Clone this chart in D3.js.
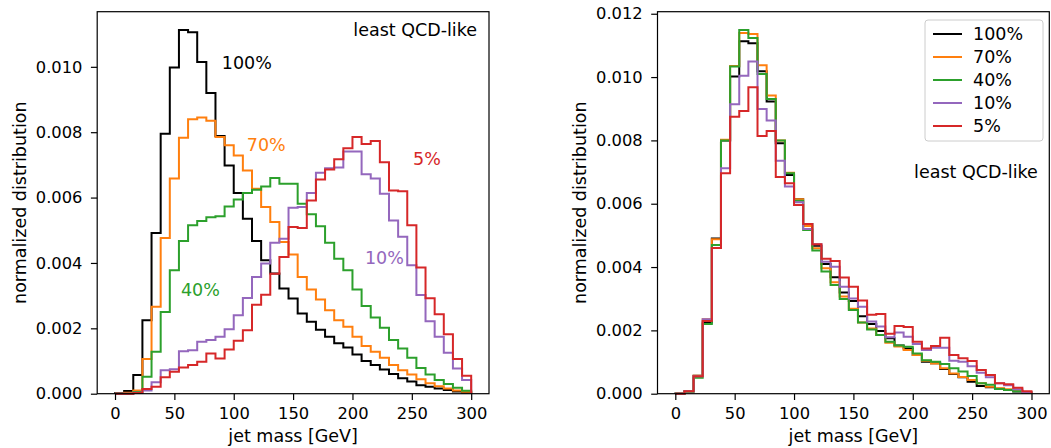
<!DOCTYPE html>
<html>
<head>
<meta charset="utf-8">
<script src="https://cdn.jsdelivr.net/npm/d3@7/dist/d3.min.js"></script>
<style>
body{margin:0;background:#fff;}
text{font-family:"DejaVu Sans",sans-serif;fill:#000;}
</style>
<title>jet mass</title>
</head>
<body>
<div id="graph"></div>
<script>
// histogram definition: 39 equal bins between 0 and 300 GeV
var massRange = [0, 300];
var nBins = 39;

var cutLabels = ["100%", "70%", "40%", "10%", "5%"];
var cutColors = ["#000000", "#ff7f0e", "#2ca02c", "#9467bd", "#d62728"];

var xTicks = [0, 50, 100, 150, 200, 250, 300];
var yTicksLeft = [0, 0.002, 0.004, 0.006, 0.008, 0.010];
var yTicksRight = [0, 0.002, 0.004, 0.006, 0.008, 0.010, 0.012];

// left panel (most signal-like selection)
var left100 = [0.00001, 0.00008, 0.00057, 0.00225, 0.00492, 0.00795, 0.00998, 0.01113, 0.01106, 0.01015,
  0.0092, 0.00788, 0.00698, 0.00614, 0.00535, 0.00467, 0.00408, 0.00368, 0.00322, 0.00291,
  0.00245, 0.0022, 0.00196, 0.00174, 0.00154, 0.00141, 0.0012, 0.001, 0.00088, 0.00074,
  0.0006, 0.00047, 0.00037, 0.00026, 0.00021, 0.00016, 0.00011, 0.00007, 0.00004];
var left70 = [0, 0.00003, 0.0001, 0.00106, 0.00266, 0.00476, 0.00658, 0.00783, 0.0084, 0.00845,
  0.00835, 0.00785, 0.0076, 0.00729, 0.00683, 0.00627, 0.00571, 0.00525, 0.00464, 0.00426,
  0.00357, 0.00319, 0.00288, 0.00255, 0.00225, 0.00205, 0.00174, 0.00146, 0.00128, 0.0011,
  0.00088, 0.00072, 0.00059, 0.00044, 0.00032, 0.00023, 0.00016, 0.0001, 0.00006];
var left40 = [0, 0, 0.00005, 0.00052, 0.00128, 0.0025, 0.00378, 0.00467, 0.00515, 0.00528,
  0.0054, 0.00543, 0.00573, 0.00594, 0.00614, 0.00624, 0.00634, 0.0066, 0.00642, 0.00642,
  0.00581, 0.00549, 0.00512, 0.00462, 0.00413, 0.00378, 0.00319, 0.00268, 0.00233, 0.00202,
  0.00164, 0.00138, 0.0011, 0.00079, 0.00059, 0.00042, 0.0003, 0.00018, 0.00009];
var left10 = [0, 0, 0.00003, 0.0001, 0.00035, 0.00072, 0.00075, 0.0013, 0.00133, 0.00159,
  0.00164, 0.00174, 0.00197, 0.0024, 0.00293, 0.00357, 0.00398, 0.00462, 0.00474, 0.00569,
  0.00571, 0.00614, 0.00676, 0.0069, 0.00692, 0.00741, 0.00741, 0.00671, 0.00658, 0.00612,
  0.0053, 0.0048, 0.00393, 0.00302, 0.00222, 0.00174, 0.00125, 0.00077, 0.00042];
var left5 = [0, 0, 0.00002, 0.00014, 0.00021, 0.0005, 0.00067, 0.0008, 0.00088, 0.00098,
  0.00123, 0.00108, 0.00135, 0.00162, 0.00194, 0.00272, 0.00303, 0.00367, 0.00418, 0.0051,
  0.00507, 0.00591, 0.00655, 0.00686, 0.00717, 0.00751, 0.00785, 0.00764, 0.00773, 0.00708,
  0.00622, 0.00619, 0.00515, 0.00386, 0.00292, 0.00243, 0.00182, 0.00106, 0.00055];

// right panel (least QCD-like selection)
var right100 = [0.00001, 0.00008, 0.00057, 0.00225, 0.0049, 0.008, 0.01002, 0.01113, 0.01107, 0.01018,
  0.00923, 0.00791, 0.00691, 0.00614, 0.00536, 0.00467, 0.0041, 0.00368, 0.0032, 0.00293,
  0.00245, 0.0022, 0.00198, 0.00175, 0.00152, 0.00143, 0.00122, 0.00101, 0.00096, 0.00078,
  0.00062, 0.00052, 0.00038, 0.00024, 0.0002, 0.00016, 0.00012, 0.00007, 0.00003];
var right70 = [0, 0.00008, 0.00057, 0.00235, 0.00488, 0.00802, 0.01035, 0.01139, 0.01136, 0.01037,
  0.00942, 0.008, 0.00698, 0.00614, 0.0053, 0.00459, 0.00396, 0.00352, 0.00307, 0.00268,
  0.00225, 0.00206, 0.00185, 0.00161, 0.00149, 0.00138, 0.00122, 0.00104, 0.00095, 0.0008,
  0.00064, 0.00053, 0.00043, 0.00033, 0.00022, 0.00017, 0.00014, 0.00009, 0.00004];
var right40 = [0, 0.00006, 0.0005, 0.0022, 0.0047, 0.008, 0.01033, 0.01149, 0.01123, 0.0101,
  0.00931, 0.008, 0.00696, 0.00609, 0.00517, 0.00452, 0.00386, 0.00343, 0.00299, 0.00264,
  0.00225, 0.00203, 0.00185, 0.00164, 0.00152, 0.00148, 0.00127, 0.00106, 0.00101, 0.00094,
  0.0008, 0.0007, 0.00056, 0.00033, 0.00028, 0.00015, 0.00012, 0.00008, 0.00003];
var right10 = [0, 0.00008, 0.00055, 0.00235, 0.0046, 0.00712, 0.00914, 0.01004, 0.01049, 0.00899,
  0.00863, 0.00736, 0.00654, 0.00605, 0.0052, 0.00472, 0.00417, 0.00401, 0.00338, 0.00301,
  0.00275, 0.00228, 0.00212, 0.00178, 0.00193, 0.0018, 0.00157, 0.00138, 0.00145, 0.00145,
  0.00104, 0.00101, 0.00087, 0.00066, 0.00052, 0.00033, 0.00027, 0.00014, 0.00005];
var right5 = [0, 0.00008, 0.00055, 0.0023, 0.0046, 0.00696, 0.00875, 0.00893, 0.00968, 0.00814,
  0.0083, 0.00684, 0.00665, 0.00596, 0.00536, 0.00472, 0.00426, 0.00419, 0.00367, 0.00338,
  0.00294, 0.00249, 0.00252, 0.00189, 0.00214, 0.00211, 0.00164, 0.00143, 0.00151, 0.00177,
  0.00122, 0.00112, 0.00103, 0.00075, 0.00059, 0.00033, 0.0003, 0.00019, 0.00008];

var edges = d3.range(nBins + 1).map(function(i){ return massRange[0] + i*(massRange[1]-massRange[0])/nBins; });

var width = 1051, height = 448;
var svg = d3.select('#graph').append('svg').attr('width', width).attr('height', height);

var fsTick = 16.3, fsText = 17.5;

function drawPanel(left, series, yTicks, yFmt) {
  var top = 11.7, bottom = 393.7, pw = 391.8;
  var g = svg.append('g').attr('transform', 'translate(' + left + ',0)');
  var span = massRange[1] - massRange[0];
  var x = d3.scaleLinear().domain([massRange[0] - 0.05*span, massRange[1] + 0.05*span]).range([0, pw]);
  var ymax = d3.max(series, function(s){ return d3.max(s); }) * 1.05;
  var y = d3.scaleLinear().domain([0, ymax]).range([bottom, top]);

  var line = d3.line().x(function(d){ return x(d[0]); }).y(function(d){ return y(d[1]); });
  series.forEach(function(vals, k){
    var pts = [[edges[0], 0]];
    vals.forEach(function(v, i){ pts.push([edges[i], v]); pts.push([edges[i+1], v]); });
    pts.push([edges[nBins], 0]);
    g.append('path').attr('d', line(pts)).attr('fill', 'none')
      .attr('stroke', cutColors[k]).attr('stroke-width', 2).attr('stroke-linejoin', 'miter');
  });

  var xAxis = g.append('g').attr('transform', 'translate(0,' + bottom + ')')
    .call(d3.axisBottom(x).tickValues(xTicks).tickSize(6.3).tickPadding(7.5).tickFormat(d3.format('d')));
  var yAxis = g.append('g')
    .call(d3.axisLeft(y).tickValues(yTicks).tickSize(6.3).tickPadding(8.5).tickFormat(yFmt));
  [xAxis, yAxis].forEach(function(a){
    a.select('.domain').remove();
    a.selectAll('line').attr('stroke', '#000').attr('stroke-width', 1.2);
    a.selectAll('text').style('font-size', fsTick + 'px').style('font-family', '"DejaVu Sans"');
  });
  g.append('rect').attr('x', 0).attr('y', top).attr('width', pw).attr('height', bottom - top)
    .attr('fill', 'none').attr('stroke', '#000').attr('stroke-width', 1.2);

  g.append('text').attr('x', pw/2).attr('y', 442).attr('text-anchor', 'middle')
    .style('font-size', fsText + 'px').text('jet mass [GeV]');
  g.append('text').attr('transform', 'translate(-71.5,' + ((top+bottom)/2) + ') rotate(-90)')
    .attr('text-anchor', 'middle').style('font-size', fsText + 'px').text('normalized distribution');
  return {g: g, x: x, y: y, pw: pw};
}

var fmt3 = d3.format('.3f');
var L = drawPanel(97.2, [left100, left70, left40, left10, left5], yTicksLeft, fmt3);
var R = drawPanel(657.5, [right100, right70, right40, right10, right5], yTicksRight, fmt3);

// in-plot labels (left panel), placed in data coordinates
var tagPos = [[90, 0.00994], [111, 0.00744], [55.5, 0.00298], [210.5, 0.00396], [251, 0.00701]];
cutLabels.forEach(function(t, k){
  L.g.append('text').attr('x', L.x(tagPos[k][0])).attr('y', L.y(tagPos[k][1]))
    .style('font-size', fsText + 'px').style('fill', cutColors[k]).text(t);
});
L.g.append('text').attr('x', L.pw - 12).attr('y', 35.5).attr('text-anchor', 'end')
  .style('font-size', fsText + 'px').text('least QCD-like');

// legend (right panel)
var lg = R.g.append('g').attr('transform', 'translate(267.5,20)');
lg.append('rect').attr('x', 0).attr('y', 0).attr('width', 118).attr('height', 121).attr('rx', 3)
  .attr('fill', '#fff').attr('stroke', '#ccc').attr('stroke-width', 1);
cutLabels.forEach(function(t, k){
  var yy = 14 + k*23;
  lg.append('line').attr('x1', 8).attr('x2', 37).attr('y1', yy).attr('y2', yy)
    .attr('stroke', cutColors[k]).attr('stroke-width', 2);
  lg.append('text').attr('x', 48).attr('y', yy).attr('dy', '0.35em')
    .style('font-size', fsText + 'px').text(t);
});
R.g.append('text').attr('x', R.pw - 11.5).attr('y', 178).attr('text-anchor', 'end')
  .style('font-size', fsText + 'px').text('least QCD-like');
</script>
</body>
</html>
